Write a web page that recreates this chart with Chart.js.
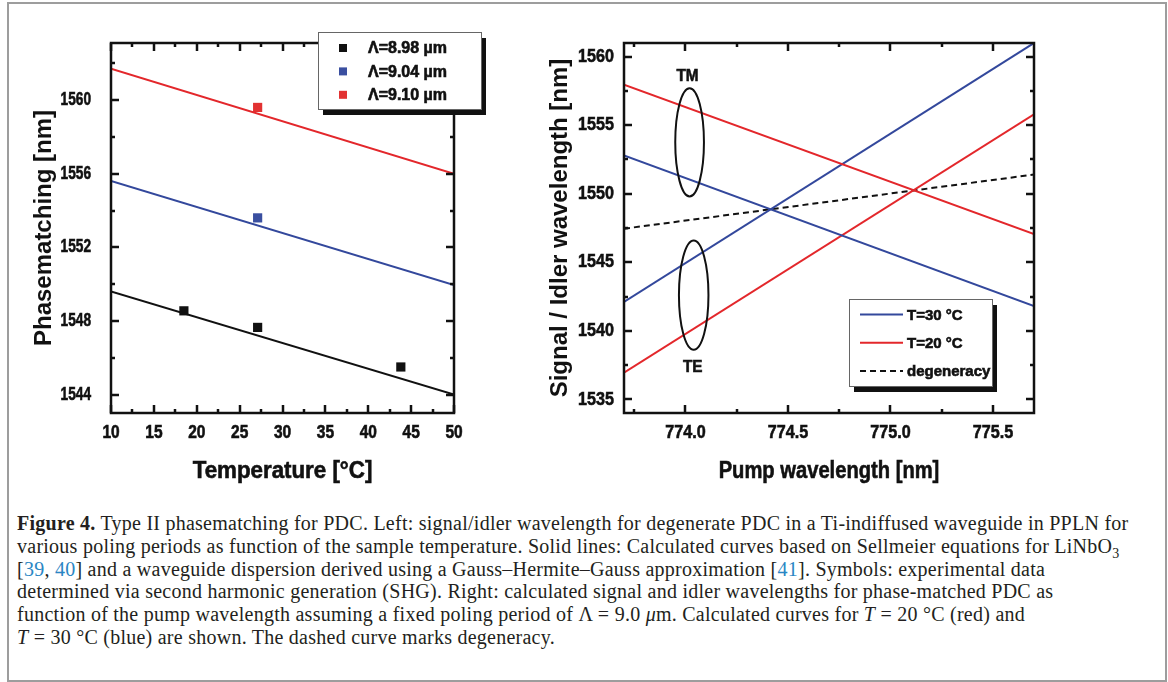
<!DOCTYPE html>
<html>
<head>
<meta charset="utf-8">
<script src="https://cdn.jsdelivr.net/npm/chart.js@4.4.1/dist/chart.umd.min.js"></script>
<style>
html, body { margin: 0; padding: 0; background: #fff; width: 1168px; height: 682px; overflow: hidden; }
#frame { position: absolute; left: 7px; top: 2px; width: 1160px; height: 680px; box-sizing: border-box; border: 2px solid #9d9d9d; }
#left { position: absolute; left: 0; top: 0; }
#right { position: absolute; left: 540px; top: 0; }
#caption { position: absolute; left: 17px; top: 512px; font-family: 'Liberation Serif', serif; font-size: 20px; letter-spacing: 0.25px; line-height: 22.8px; color: #231f20; white-space: nowrap; }
#caption .ref { color: #2a86c4; }
#caption sub { font-size: 70%; line-height: 0; }
</style>
</head>
<body>
<div id="frame"></div>
<canvas id="left" width="540" height="500"></canvas>
<canvas id="right" width="628" height="500"></canvas>
<div id="caption">
<div><b>Figure 4.</b> Type II phasematching for PDC. Left: signal/idler wavelength for degenerate PDC in a Ti-indiffused waveguide in PPLN for</div>
<div>various poling periods as function of the sample temperature. Solid lines: Calculated curves based on Sellmeier equations for LiNbO<sub>3</sub></div>
<div>[<span class="ref">39</span>, <span class="ref">40</span>] and a waveguide dispersion derived using a Gauss–Hermite–Gauss approximation [<span class="ref">41</span>]. Symbols: experimental data</div>
<div>determined via second harmonic generation (SHG). Right: calculated signal and idler wavelengths for phase-matched PDC as</div>
<div>function of the pump wavelength assuming a fixed poling period of Λ = 9.0 <i>μ</i>m. Calculated curves for <i>T</i> = 20 °C (red) and</div>
<div><i>T</i> = 30 °C (blue) are shown. The dashed curve marks degeneracy.</div>
</div>
<script>
// left panel: phasematching vs temperature
const tempX = [10, 50];
const fit898 = [1549.6, 1544.0];
const fit904 = [1555.6, 1549.95];
const fit910 = [1561.7, 1556.0];
const measT898 = [18.5, 27.1, 43.8];
const meas898 = [1548.55, 1547.65, 1545.5];
const measT904 = [27.1];
const meas904 = [1553.6];
const measT910 = [27.1];
const meas910 = [1559.6];
const leftXTicks = [10, 15, 20, 25, 30, 35, 40, 45, 50];
const leftXMinor = [12.5, 17.5, 22.5, 27.5, 32.5, 37.5, 42.5, 47.5];
const leftYTicks = [1544, 1548, 1552, 1556, 1560];
const leftYMinor = [1546, 1550, 1554, 1558, 1562];

// right panel: signal / idler vs pump wavelength
const pumpX = [773.7, 775.7];
const tm20 = [1557.95, 1547.05];
const tm30 = [1552.8, 1541.8];
const te30 = [1542.1, 1561.0];
const te20 = [1536.95, 1555.8];
const degen = [1547.45, 1551.4];
const rightXTicks = [774.0, 774.5, 775.0, 775.5];
const rightXMinor = [773.75, 774.25, 774.75, 775.25];
const rightYTicks = [1535, 1540, 1545, 1550, 1555, 1560];
const rightYMinor = [1537.5, 1542.5, 1547.5, 1552.5, 1557.5];
const modeGroups = [
  { text: 'TM', cx: 774.02, cy: 1553.75, rx: 0.07, ry: 3.95, tx: 774.01, ty: 1558.6 },
  { text: 'TE', cx: 774.04, cy: 1542.6, rx: 0.072, ry: 3.98, tx: 774.035, ty: 1537.35 }
];

const BLACK = '#111111', BLUE = '#33489c', RED = '#e3272b';
const SANS = "'Liberation Sans', Arial, sans-serif";

const pts = (xs, ys) => xs.map((x, i) => ({ x: x, y: ys[i] }));

// the original figure is squeezed sideways, so horizontal text is drawn narrower
// (a thin stroke gives the heavy look of the scanned labels)
function squeezeText(ctx, text, x, y, k, align) {
  ctx.save();
  ctx.translate(x, y);
  ctx.scale(k, 1);
  ctx.textAlign = align;
  ctx.lineWidth = 0.6;
  ctx.strokeStyle = ctx.fillStyle;
  ctx.fillText(text, 0, 0);
  ctx.strokeText(text, 0, 0);
  ctx.restore();
}

// closed box, inward major/minor ticks on all four sides, tick labels and x title
const framePlugin = {
  id: 'frame',
  afterDatasetsDraw(chart, args, o) {
    const { ctx, chartArea: a } = chart;
    const sx = chart.scales.x, sy = chart.scales.y;
    ctx.save();
    ctx.strokeStyle = BLACK;
    ctx.lineWidth = 2.5;
    ctx.beginPath();
    const seg = (x1, y1, x2, y2) => { ctx.moveTo(x1, y1); ctx.lineTo(x2, y2); };
    const doX = (vals, len) => vals.forEach(v => {
      const p = Math.round(sx.getPixelForValue(v));
      seg(p, a.bottom, p, a.bottom - len);
      seg(p, a.top, p, a.top + len);
    });
    const doY = (vals, len) => vals.forEach(v => {
      const p = Math.round(sy.getPixelForValue(v));
      seg(a.left, p, a.left + len, p);
      seg(a.right, p, a.right - len, p);
    });
    doX(o.xMajor, 8); doX(o.xMinor, 4);
    doY(o.yMajor, 8); doY(o.yMinor, 4);
    ctx.stroke();
    ctx.strokeRect(a.left, a.top, a.right - a.left, a.bottom - a.top);

    ctx.fillStyle = BLACK;
    ctx.textBaseline = 'middle';
    ctx.font = 'bold ' + o.tickSize + 'px ' + SANS;
    o.xMajor.forEach(v => squeezeText(ctx, o.xFmt(v), sx.getPixelForValue(v), a.bottom + o.xLabelDy, o.k, 'center'));
    o.yMajor.forEach(v => squeezeText(ctx, String(v), a.left - o.yPad, sy.getPixelForValue(v), o.yk, 'right'));
    ctx.font = 'bold ' + o.titleSize + 'px ' + SANS;
    squeezeText(ctx, o.xTitle, (a.left + a.right) / 2, a.bottom + o.titleDy, o.titleK, 'center');
    ctx.restore();
  }
};

// boxed legend with a drop shadow
const legendBox = {
  id: 'legendBox',
  afterDraw(chart, args, o) {
    const ctx = chart.ctx;
    const items = chart.data.datasets.filter(d => d.legend);
    ctx.save();
    ctx.fillStyle = BLACK;
    ctx.fillRect(o.x + 5, o.y + 6, o.w, o.h);
    ctx.fillStyle = '#fff';
    ctx.fillRect(o.x, o.y, o.w, o.h);
    ctx.strokeStyle = '#666';
    ctx.lineWidth = 1;
    ctx.strokeRect(o.x + 0.5, o.y + 0.5, o.w, o.h);
    ctx.font = o.font;
    ctx.textBaseline = 'middle';
    items.forEach((d, i) => {
      const cy = o.y + o.first + i * o.rowH;
      if (d.pointStyle === 'rect') {
        ctx.fillStyle = d.backgroundColor;
        ctx.fillRect(o.sx - 4, cy - 4, 8, 8);
      } else {
        ctx.strokeStyle = d.borderColor;
        ctx.lineWidth = 2;
        ctx.setLineDash(d.borderDash || []);
        ctx.beginPath();
        ctx.moveTo(o.sx, cy);
        ctx.lineTo(o.sx + o.sw, cy);
        ctx.stroke();
        ctx.setLineDash([]);
      }
      ctx.fillStyle = BLACK;
      squeezeText(ctx, d.legend, o.tx, cy + 1, 1, 'left');
    });
    ctx.restore();
  }
};

// TM / TE ellipses with labels
const modePlugin = {
  id: 'modes',
  afterDatasetsDraw(chart, args, o) {
    if (!o.groups) return;
    const { ctx } = chart;
    const sx = chart.scales.x, sy = chart.scales.y;
    ctx.save();
    ctx.strokeStyle = BLACK;
    ctx.lineWidth = 2;
    ctx.fillStyle = BLACK;
    ctx.font = 'bold 17px ' + SANS;
    ctx.textBaseline = 'middle';
    o.groups.forEach(g => {
      const cx = sx.getPixelForValue(g.cx), cy = sy.getPixelForValue(g.cy);
      const rx = Math.abs(sx.getPixelForValue(g.cx + g.rx) - cx);
      const ry = Math.abs(sy.getPixelForValue(g.cy + g.ry) - cy);
      ctx.beginPath();
      ctx.ellipse(cx, cy, rx, ry, 0, 0, Math.PI * 2);
      ctx.stroke();
      squeezeText(ctx, g.text, sx.getPixelForValue(g.tx), sy.getPixelForValue(g.ty), 0.9, 'center');
    });
    ctx.restore();
  }
};

function fixSize(w, h) {
  return function (scale) {
    if (w !== null) scale.width = w;
    if (h !== null) scale.height = h;
  };
}

function setTicks(vals) {
  return function (scale) { scale.ticks = vals.map(v => ({ value: v })); };
}

function lineDs(xs, ys, color, extra) {
  return Object.assign({
    type: 'line', data: pts(xs, ys), borderColor: color, backgroundColor: color,
    borderWidth: 2, pointRadius: 0, fill: false, tension: 0
  }, extra || {});
}

function squareDs(xs, ys, color, label) {
  return {
    type: 'scatter', data: pts(xs, ys), backgroundColor: color, borderColor: color,
    borderWidth: 0, pointStyle: 'rect', pointRadius: 6.5, legend: label
  };
}

function axis(min, max, ticks, w, h, yTitle, titlePad) {
  return {
    type: 'linear', min: min, max: max,
    afterBuildTicks: setTicks(ticks),
    afterFit: fixSize(w, h),
    grid: { display: false }, border: { display: false },
    ticks: { display: false },
    title: yTitle ? { display: true, text: yTitle, color: BLACK, padding: { top: titlePad, bottom: 0 },
      font: { family: SANS, size: 24, weight: 'bold' } } : { display: false }
  };
}

new Chart(document.getElementById('left'), {
  type: 'scatter',
  data: {
    datasets: [
      lineDs(tempX, fit910, RED),
      lineDs(tempX, fit904, BLUE),
      lineDs(tempX, fit898, BLACK),
      squareDs(measT898, meas898, BLACK, 'Λ=8.98 µm'),
      squareDs(measT904, meas904, '#3a4fa0', 'Λ=9.04 µm'),
      squareDs(measT910, meas910, '#e23232', 'Λ=9.10 µm')
    ]
  },
  options: {
    responsive: false,
    animation: false,
    layout: { padding: { left: 0, right: 86, top: 43, bottom: 0 } },
    scales: {
      x: axis(10, 50, leftXTicks, null, 87),
      y: axis(1543, 1563.1, leftYTicks, 111, null, 'Phasematching [nm]', 30)
    },
    plugins: {
      legend: { display: false },
      tooltip: { enabled: false },
      frame: { xMajor: leftXTicks, xMinor: leftXMinor, yMajor: leftYTicks, yMinor: leftYMinor,
        xFmt: v => String(v), tickSize: 18, k: 0.86, yk: 0.76, xLabelDy: 20, yPad: 20,
        xTitle: 'Temperature [°C]', titleSize: 23.5, titleK: 0.95, titleDy: 59 },
      legendBox: { x: 318, y: 32, w: 163, h: 77, first: 16, rowH: 23.4, sx: 343, tx: 368,
        font: 'bold 16px ' + SANS }
    }
  },
  plugins: [framePlugin, legendBox]
});

new Chart(document.getElementById('right'), {
  type: 'scatter',
  data: {
    datasets: [
      lineDs(pumpX, tm20, RED),
      lineDs(pumpX, tm30, BLUE),
      lineDs(pumpX, te30, BLUE, { legend: 'T=30 °C' }),
      lineDs(pumpX, te20, RED, { legend: 'T=20 °C' }),
      lineDs(pumpX, degen, BLACK, { borderDash: [6, 4], legend: 'degeneracy' })
    ]
  },
  options: {
    responsive: false,
    animation: false,
    layout: { padding: { left: 0, right: 134, top: 43, bottom: 0 } },
    scales: {
      x: axis(773.7, 775.7, rightXTicks, null, 87),
      y: axis(1534, 1561, rightYTicks, 84, null, 'Signal / Idler wavelength [nm]', 6)
    },
    plugins: {
      legend: { display: false },
      tooltip: { enabled: false },
      frame: { xMajor: rightXTicks, xMinor: rightXMinor, yMajor: rightYTicks, yMinor: rightYMinor,
        xFmt: v => v.toFixed(1), tickSize: 19, k: 0.85, yk: 0.85, xLabelDy: 19.5, yPad: 10,
        xTitle: 'Pump wavelength [nm]', titleSize: 24, titleK: 0.84, titleDy: 58 },
      modes: { groups: modeGroups },
      legendBox: { x: 309, y: 299, w: 143, h: 87, first: 15.5, rowH: 28.2, sx: 320, sw: 43, tx: 367,
        font: 'bold 15px ' + SANS }
    }
  },
  plugins: [framePlugin, modePlugin, legendBox]
});
</script>
</body>
</html>
